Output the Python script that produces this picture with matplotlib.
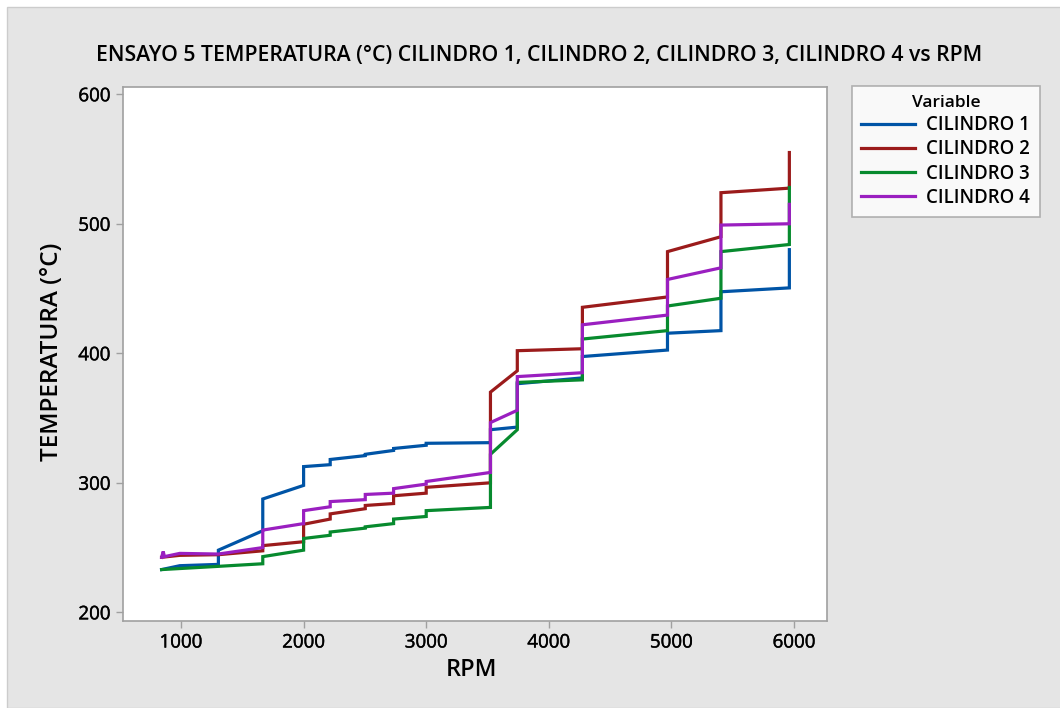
import matplotlib.pyplot as plt
import matplotlib.patheffects as pe
from matplotlib.patches import Rectangle

plt.rcParams['font.family'] = ['Open Sans', 'DejaVu Sans']

# RPM / temperature readings per cylinder, in logging order
rpm_c1 = [842, 990, 1305, 1305, 1667, 1667, 2000, 2000, 2217, 2217, 2503, 2503, 2734, 2734,
          3000, 3000, 3524, 3524, 3743, 3743, 4274, 4274, 4968, 4968, 5404, 5404, 5962, 5962]
temp_c1 = [233, 236, 237, 248, 263, 287.5, 298, 312.5, 314, 318, 321, 322, 325, 326.5,
           329, 330.5, 331, 341, 343, 376.5, 381, 397.5, 402.5, 415.5, 417.5, 447.5, 450.5, 480]

rpm_c2 = [842, 990, 1305, 1667, 1667, 2000, 2000, 2217, 2217, 2503, 2503, 2734, 2734,
          3000, 3000, 3524, 3524, 3743, 3743, 4274, 4274, 4968, 4968, 5404, 5404, 5962, 5962]
temp_c2 = [242.5, 244, 244.5, 247.5, 251.5, 254.5, 268, 272, 276, 280, 282.5, 284, 290,
           292, 296.5, 300, 370, 386.5, 402, 403.5, 435.5, 443.5, 478.5, 490, 524, 527.5, 555]

rpm_c3 = [842, 1305, 1667, 1667, 2000, 2000, 2217, 2217, 2503, 2503, 2734, 2734,
          3000, 3000, 3524, 3524, 3743, 3743, 4274, 4274, 4968, 4968, 5404, 5404, 5962, 5962]
temp_c3 = [233, 235.5, 237.5, 243, 248, 257, 259.5, 262, 265, 266, 268.5, 272,
           274, 278.5, 281, 322, 341, 377.5, 379.5, 411, 417.5, 436.5, 442.5, 478.5, 484, 528]

rpm_c4 = [842, 855, 865, 990, 1305, 1667, 1667, 2000, 2000, 2217, 2217, 2503, 2503, 2734, 2734,
          3000, 3000, 3524, 3524, 3743, 3743, 4274, 4274, 4968, 4968, 5404, 5404, 5962, 5962]
temp_c4 = [242.5, 247, 243, 245.5, 245, 250, 263.5, 268.5, 278.5, 281.5, 285.5, 287, 291, 292, 295.5,
           299, 301, 308, 346.5, 356, 382, 385, 422, 429.5, 457, 466, 499, 500, 515]

labels = ['CILINDRO 1', 'CILINDRO 2', 'CILINDRO 3', 'CILINDRO 4']
colors = ['#0054A6', '#9B1B1B', '#078A2E', '#9A1FC0']

fig = plt.figure(figsize=(10.6, 7.08), dpi=100, facecolor='white')
fig.patches.append(Rectangle((7 / 1060, 0), 1.0, 1 - 7 / 708, transform=fig.transFigure,
                             facecolor='#E5E5E5', edgecolor='#CCCCCC', lw=1.0, zorder=-10))

ax = fig.add_axes([123 / 1060, 1 - 621 / 708, 704 / 1060, 534 / 708])
ax.set_facecolor('white')

series = [(rpm_c1, temp_c1), (rpm_c2, temp_c2), (rpm_c3, temp_c3), (rpm_c4, temp_c4)]
handles = []
for (x, y), lab, col in zip(series, labels, colors):
    h, = ax.plot(x, y, color=col, lw=2.3, label=lab, solid_joinstyle='miter')
    handles.append(h)

ax.set_xlim(527, 6269)
ax.set_ylim(193.3, 605.6)
ax.set_xticks([1000, 2000, 3000, 4000, 5000, 6000])
ax.set_yticks([200, 300, 400, 500, 600])
for s in ax.spines.values():
    s.set_color('#A0A0A0')
    s.set_linewidth(1.2)
ax.tick_params(direction='out', length=5, width=1, color='#A0A0A0', labelsize=13.5, pad=4)
for t in ax.get_xticklabels() + ax.get_yticklabels():
    t.set_path_effects([pe.withStroke(linewidth=0.3, foreground='black')])

fig.text(539 / 1060, 1 - 56 / 708,
         'ENSAYO 5 TEMPERATURA (°C) CILINDRO 1, CILINDRO 2, CILINDRO 3, CILINDRO 4 vs RPM',
         ha='center', va='center', fontsize=15.3, fontweight='semibold')
fig.text(471 / 1060, 1 - 670 / 708, 'RPM', ha='center', va='center', fontsize=17,
         fontweight='semibold')
fig.text(52 / 1060, 1 - 352 / 708, 'TEMPERATURA (°C)', ha='center', va='center', fontsize=17.5,
         fontweight='semibold', rotation=90)

leg = fig.legend(handles=handles, labels=labels, title='Variable', loc='upper left',
                 bbox_to_anchor=(852 / 1060, 1 - 86 / 708), borderaxespad=0, fontsize=13.4,
                 title_fontsize=12.5, handlelength=2.9, handletextpad=0.6, labelspacing=0.22,
                 frameon=True, fancybox=False, edgecolor='#A0A0A0', borderpad=0.5)
leg.get_frame().set_linewidth(1.2)
leg.get_title().set_fontweight('semibold')
for t in leg.get_texts():
    t.set_fontweight('semibold')

fig.savefig('out.png', dpi=100, facecolor=fig.get_facecolor())
